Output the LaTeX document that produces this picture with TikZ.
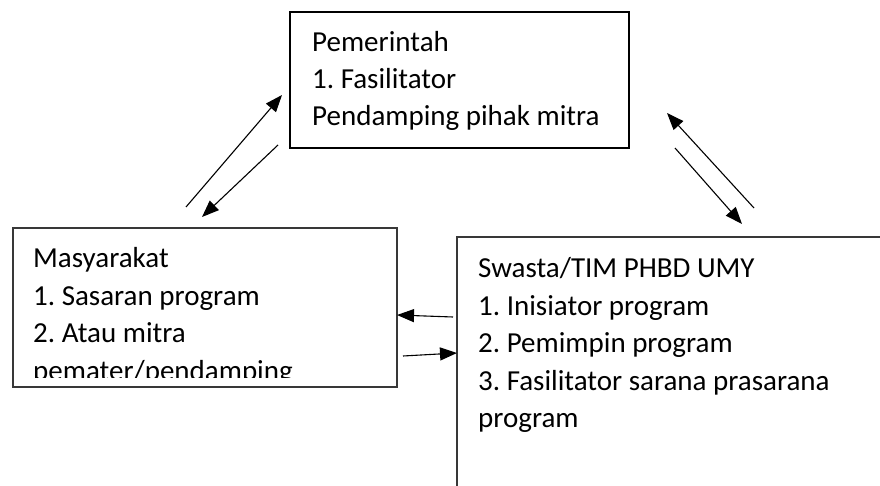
\documentclass[tikz,border=0pt]{standalone}
\usepackage{fontspec}
\setmainfont{Carlito}
\usetikzlibrary{arrows.meta}
\frenchspacing
\begin{document}
\begin{tikzpicture}[x=1pt,y=-1pt,
  txt/.style={anchor=base west,inner sep=0pt,font=\fontsize{29}{37}\selectfont\frenchspacing,text=black},
  boxthick/.style={draw=black,line width=2.3pt,anchor=north west,inner sep=0pt,outer sep=0pt},
  boxthin/.style={draw=black!78,line width=1.4pt,anchor=north west,inner sep=0pt,outer sep=0pt},
  arr/.style={line width=1.1pt,-{Triangle[length=17pt,width=13pt]}}]
\useasboundingbox (0,0) rectangle (880,486);
\clip (0,0) rectangle (880,486);
\fill[white] (0,0) rectangle (880,486);
% boxes
\node[boxthick,minimum width=339pt,minimum height=136pt] (gov) at (290,12) {};
\node[boxthin,minimum width=384pt,minimum height=159pt] (mas) at (13,228) {};
\node[boxthin,minimum width=440pt,minimum height=280pt] (swa) at (457,237) {};
% texts
\node[txt] (gov1) at (312,52) {Pemerintah};
\node[txt] (gov2) at (312,89) {1. Fasilitator};
\node[txt] (gov3) at (312,126) {Pendamping pihak mitra};
\node[txt] (mas1) at (33,268) {Masyarakat};
\node[txt] (mas2) at (33,305) {1. Sasaran program};
\node[txt] (mas3) at (33,342) {2. Atau mitra};
\begin{scope}
\clip (14,229) rectangle (396,377);
\node[txt] (mas4) at (33,380) {pemater/pendamping};
\end{scope}
\node[txt] (swa1) at (478,277) {Swasta/TIM PHBD UMY};
\node[txt] (swa2) at (478,315) {1. Inisiator program};
\node[txt] (swa3) at (478,352) {2. Pemimpin program};
\node[txt] (swa4) at (478,390) {3. Fasilitator sarana prasarana};
\node[txt] (swa5) at (478,427) {program};
% arrow ends
\coordinate (a1s) at (186,207); \coordinate (a1e) at (282,95);
\coordinate (a2s) at (278,145); \coordinate (a2e) at (202,217);
\coordinate (a3s) at (754,208); \coordinate (a3e) at (667,113);
\coordinate (a4s) at (675,148); \coordinate (a4e) at (742,224);
\coordinate (a5s) at (453,317); \coordinate (a5e) at (397,315);
\coordinate (a6s) at (403,356); \coordinate (a6e) at (457,353);
\draw[arr] (a1s) -- (a1e);
\draw[arr] (a2s) -- (a2e);
\draw[arr] (a3s) -- (a3e);
\draw[arr] (a4s) -- (a4e);
\draw[arr] (a5s) -- (a5e);
\draw[arr] (a6s) -- (a6e);
\end{tikzpicture}
\end{document}
